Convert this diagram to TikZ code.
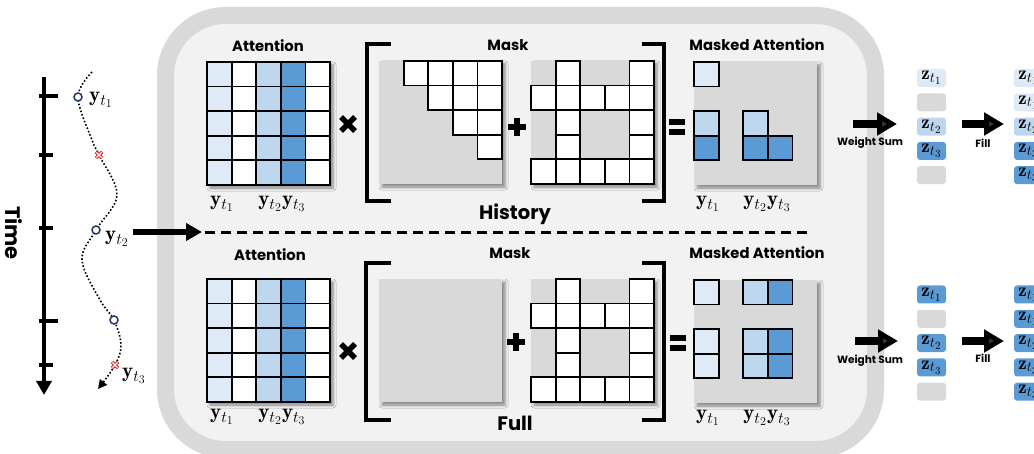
\documentclass[tikz,border=0pt]{standalone}
\usepackage{amsmath, amssymb}
\usepackage{fix-cm}
\usepackage{fontspec}
\setsansfont{Poppins}
\usepackage{tikz}
\usetikzlibrary{positioning, arrows.meta, shadows.blur, calc}
\DeclareMathSizes{21}{21}{16}{12}
\DeclareMathSizes{19}{19}{14.5}{11}

\definecolor{lblue}{HTML}{DEEBF7}
\definecolor{mblue}{HTML}{BDD7EE}
\definecolor{dblue}{HTML}{5B9BD5}
\definecolor{mgray}{HTML}{D9D9D9}
\definecolor{bggray}{HTML}{F2F2F2}
\definecolor{ptblue}{HTML}{203864}
\definecolor{xred}{HTML}{E02020}

\newcommand{\cs}{24.6} % cell size
% white grid with the attention columns, top-left corner at (#1,#2)
\newcommand{\attmat}[2]{%
  \fill[white, softshadow] (#1,#2) rectangle ++(5*\cs,5*\cs);
  \foreach \c/\clr in {0/lblue,1/white,2/mblue,3/dblue,4/white}
    \foreach \r in {0,...,4}
      \draw[cellline, fill=\clr] ({#1+\c*\cs},{#2+\r*\cs}) rectangle ++(\cs,\cs);
}
% gray square
\newcommand{\graysq}[2]{\fill[mgray, softshadow] (#1,#2) rectangle ++(5*\cs,5*\cs);}
% structure mask
\newcommand{\boxmask}[2]{%
  \graysq{#1}{#2}
  \foreach \r/\c in {0/1,0/4,1/0,1/1,1/2,1/3,1/4,2/1,2/4,3/1,3/4,4/0,4/1,4/2,4/3,4/4}
    \draw[cellline, fill=white] ({#1+\c*\cs},{#2+\r*\cs}) rectangle ++(\cs,\cs);
}

\begin{document}
\begin{tikzpicture}[
    x=1pt, y=-1pt,
    cellline/.style={draw=black, line width=1.8pt},
    softshadow/.style={blur shadow={shadow xshift=3pt, shadow yshift=-3pt, shadow blur radius=3pt, shadow opacity=45}},
    title/.style={font=\sffamily\bfseries\fontsize{14.8}{16}\selectfont, inner sep=0pt},
    bigtitle/.style={font=\sffamily\bfseries\fontsize{19.5}{22}\selectfont, inner sep=0pt},
    small/.style={font=\sffamily\bfseries\fontsize{10.5}{12}\selectfont, inner sep=0pt},
    ylab/.style={font=\fontsize{21}{24}\selectfont, inner sep=0pt},
    zbox/.style={rounded corners=3pt, minimum width=29pt, minimum height=18pt, inner sep=0pt, font=\fontsize{19}{20}\selectfont},
    opline/.style={line width=5.5pt},
    bracket/.style={line width=4pt},
    bigarrow/.style={line width=7.5pt, -{Triangle[length=20pt, width=22pt]}},
    pt/.style={circle, draw=ptblue, fill=white, line width=1.5pt, minimum size=8pt, inner sep=0pt}
]
    \useasboundingbox (0,0) rectangle (1034,454);
    \clip (0,0) rectangle (1034,454);

    % frame
    \draw[draw=mgray, fill=bggray, line width=17pt, rounded corners=60pt] (165.5,15.5) rectangle (875.5,449.5);

    % time axis
    \draw[line width=4pt, -{Triangle[length=14pt, width=15pt]}] (44,77) -- (44,395);
    \foreach \ty/\tl in {96/58, 155/53, 228/53, 321/58, 365/53}
      \draw[line width=4pt] (39,\ty) -- (\tl,\ty);
    \node[rotate=-90, font=\sffamily\bfseries\fontsize{21}{24}\selectfont] (timelbl) at (14,233) {Time};

    % trajectory
    \coordinate (s0) at (92,72);
    \coordinate (c1) at (78,97);
    \coordinate (x1) at (99,155);
    \coordinate (c2) at (96,230);
    \coordinate (c3) at (114,320);
    \coordinate (x2) at (115,365);
    \coordinate (s9) at (98,389);
    \draw[line width=1.6pt, dotted, -{Triangle[length=9pt, width=9pt]}]
      plot[smooth, tension=0.6] coordinates {(s0) (c1) (92,140) (x1) (117,195) (c2) (82,260) (100,300) (c3) (121,345) (x2) (s9)};
    \foreach \p in {c1, c2, c3} \node[pt] at (\p) {};
    \foreach \p in {x1, x2} {
      \draw[xred, line width=3.2pt] ($(\p)+(-3,-3)$) -- ($(\p)+(3,3)$) ($(\p)+(-3,3)$) -- ($(\p)+(3,-3)$);
      \draw[white, line width=1.2pt] ($(\p)+(-2.6,-2.6)$) -- ($(\p)+(2.6,2.6)$) ($(\p)+(-2.6,2.6)$) -- ($(\p)+(2.6,-2.6)$);
    }
    \node[ylab, anchor=west] (yt1) at (89,100) {$\mathbf{y}_{t_1}$};
    \node[ylab, anchor=west] (yt2) at (105,239) {$\mathbf{y}_{t_2}$};
    \node[ylab, anchor=west] (yt3) at (122,376) {$\mathbf{y}_{t_3}$};

    % into the box
    \coordinate (inend) at (202,232);
    \draw[line width=5.5pt, -{Triangle[length=16pt, width=17pt]}] (133,232) -- (inend);
    \draw[line width=3pt, dash pattern=on 10pt off 6pt] (205,233) -- (810,233);

    % ---------- History ----------
    \node[title] (atth) at (268,46) {Attention};
    \attmat{207}{62}
    \node[ylab] (ah1) at (222,204) {$\mathbf{y}_{t_1}$};
    \node[ylab] (ah23) at (282,204) {$\mathbf{y}_{t_2}\mathbf{y}_{t_3}$};
    \draw[opline] (341,117) -- (355,131) (341,131) -- (355,117);

    \node[title] (maskh) at (508,45) {Mask};
    \draw[bracket] (391,44) -- (367,44) -- (367,201) -- (391,201);
    \draw[bracket] (642,44) -- (664,44) -- (664,201) -- (642,201);
    \graysq{379}{61}
    \foreach \r/\c in {0/1,0/2,0/3,0/4,1/2,1/3,1/4,2/3,2/4,3/4}
      \draw[cellline, fill=white] ({379+\c*\cs},{61+\r*\cs}) rectangle ++(\cs,\cs);
    \draw[opline] (508,127) -- (526,127) (517,118) -- (517,136);
    \boxmask{531}{61}
    \draw[opline] (669,122) -- (685,122) (669,132) -- (685,132);
    \node[bigtitle] (histlbl) at (515,214) {History};

    \node[title] (mah) at (757,45) {Masked Attention};
    \graysq{694}{62}
    \foreach \r/\c/\clr in {0/0/lblue, 2/0/mblue, 3/0/dblue, 2/2/mblue, 3/2/dblue, 3/3/dblue}
      \draw[cellline, fill=\clr] ({694+\c*\cs},{62+\r*\cs}) rectangle ++(\cs,\cs);
    \node[ylab] (mh1) at (708,204) {$\mathbf{y}_{t_1}$};
    \node[ylab] (mh23) at (767,204) {$\mathbf{y}_{t_2}\mathbf{y}_{t_3}$};

    % weight sum and fill
    \coordinate (wsh0) at (853,124);
    \coordinate (wsh1) at (897,124);
    \draw[bigarrow] (wsh0) -- (wsh1);
    \node[small] (wshl) at (870,143) {Weight Sum};
    \foreach \i/\clr/\lbl in {1/lblue/{\mathbf{z}_{t_1}}, 2/mgray/{}, 3/mblue/{\mathbf{z}_{t_2}}, 4/dblue/{\mathbf{z}_{t_3}}, 5/mgray/{}}
      \node[zbox, fill=\clr] (zh\i) at (931.5,{78+(\i-1)*24.3}) {$\lbl$};
    \coordinate (flh0) at (962,124);
    \coordinate (flh1) at (1004,124);
    \draw[bigarrow] (flh0) -- (flh1);
    \node[small] (flhl) at (983,143) {Fill};
    \foreach \i/\clr/\lbl in {1/lblue/{\mathbf{z}_{t_1}}, 2/lblue/{\mathbf{z}_{t_1}}, 3/mblue/{\mathbf{z}_{t_2}}, 4/dblue/{\mathbf{z}_{t_3}}, 5/dblue/{\mathbf{z}_{t_3}}}
      \node[zbox, fill=\clr] (fh\i) at (1028.5,{78+(\i-1)*24.3}) {$\lbl$};

    % ---------- Full ----------
    \node[title] (attf) at (270,255) {Attention};
    \attmat{207}{279}
    \node[ylab] (af1) at (222,417) {$\mathbf{y}_{t_1}$};
    \node[ylab] (af23) at (282,417) {$\mathbf{y}_{t_2}\mathbf{y}_{t_3}$};
    \draw[opline] (341,344) -- (355,358) (341,358) -- (355,344);

    \node[title] (maskf) at (510,253) {Mask};
    \draw[bracket] (391,263) -- (366,263) -- (366,420) -- (391,420);
    \draw[bracket] (642,263) -- (664,263) -- (664,420) -- (642,420);
    \graysq{379}{279}
    \draw[opline] (507,342) -- (525,342) (516,333) -- (516,351);
    \boxmask{531}{279}
    \draw[opline] (670,338) -- (686,338) (670,348) -- (686,348);
    \node[bigtitle] (fulllbl) at (515,423) {Full};

    \node[title] (maf) at (757,253) {Masked Attention};
    \graysq{694}{280}
    \foreach \r/\c/\clr in {0/0/lblue, 0/2/mblue, 0/3/dblue, 2/0/lblue, 3/0/lblue, 2/2/mblue, 2/3/dblue, 3/2/mblue, 3/3/dblue}
      \draw[cellline, fill=\clr] ({694+\c*\cs},{280+\r*\cs}) rectangle ++(\cs,\cs);
    \node[ylab] (mf1) at (708,418) {$\mathbf{y}_{t_1}$};
    \node[ylab] (mf23) at (767,418) {$\mathbf{y}_{t_2}\mathbf{y}_{t_3}$};

    \coordinate (wsf0) at (855,341);
    \coordinate (wsf1) at (898,341);
    \draw[bigarrow] (wsf0) -- (wsf1);
    \node[small] (wsfl) at (870,361) {Weight Sum};
    \foreach \i/\clr/\lbl in {1/dblue/{\mathbf{z}_{t_1}}, 2/mgray/{}, 3/dblue/{\mathbf{z}_{t_2}}, 4/dblue/{\mathbf{z}_{t_3}}, 5/mgray/{}}
      \node[zbox, fill=\clr] (zf\i) at (931.5,{294.5+(\i-1)*24.3}) {$\lbl$};
    \coordinate (flf0) at (962,341);
    \coordinate (flf1) at (1004,341);
    \draw[bigarrow] (flf0) -- (flf1);
    \node[small] (flfl) at (983,358) {Fill};
    \foreach \i/\clr/\lbl in {1/dblue/{\mathbf{z}_{t_1}}, 2/dblue/{\mathbf{z}_{t_1}}, 3/dblue/{\mathbf{z}_{t_2}}, 4/dblue/{\mathbf{z}_{t_3}}, 5/dblue/{\mathbf{z}_{t_3}}}
      \node[zbox, fill=\clr] (ff\i) at (1028.5,{294.5+(\i-1)*24.3}) {$\lbl$};
\end{tikzpicture}
\end{document}
